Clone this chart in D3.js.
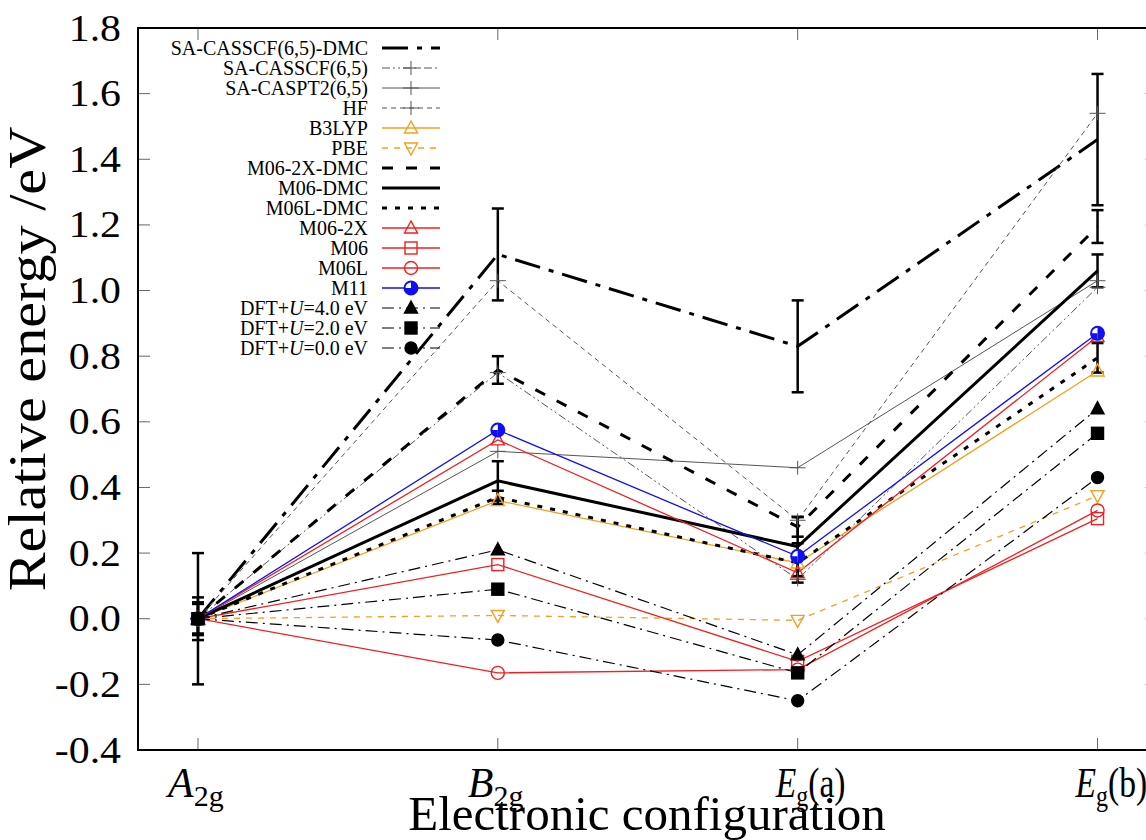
<!DOCTYPE html>
<html>
<head>
<meta charset="utf-8">
<script src="https://cdn.jsdelivr.net/npm/d3@7"></script>
<style>
  body { margin: 0; background: #fff; }
  svg { display: block; }
</style>
</head>
<body>
<div id="chartMain"></div>
<script>
// categories on the x axis
const categories = ["A2g", "B2g", "Eg(a)", "Eg(b)"];
const yTicks = [-0.4, -0.2, 0.0, 0.2, 0.4, 0.6, 0.8, 1.0, 1.2, 1.4, 1.6, 1.8];

// relative energies (eV), one value per category
const saCasscfDmc    = [0, 1.11, 0.83, 1.46];
const saCasscfDmcErr = [0.20, 0.14, 0.14, 0.20];
const saCasscf       = [0, 0.75, 0.12, 1.01];
const saCaspt2       = [0, 0.51, 0.46, 1.03];
const hf             = [0, 1.03, 0.30, 1.54];
const b3lyp          = [0, 0.36, 0.17, 0.755];
const pbe            = [0, 0.01, -0.005, 0.375];
const m062xDmc       = [0, 0.758, 0.28, 1.195];
const m062xDmcErr    = [0.05, 0.042, 0.03, 0.05];
const m06Dmc         = [0, 0.42, 0.22, 1.06];
const m06DmcErr      = [0.065, 0.06, 0.09, 0.05];
const m06lDmc        = [0, 0.37, 0.17, 0.795];
const m06lDmcErr     = [0.045, 0.02, 0.06, 0.045];
const m062x          = [0, 0.545, 0.14, 0.86];
const m06            = [0, 0.165, -0.13, 0.305];
const m06l           = [0, -0.165, -0.155, 0.33];
const m11            = [0, 0.575, 0.19, 0.87];
const dftU4          = [0, 0.21, -0.11, 0.64];
const dftU2          = [0, 0.09, -0.165, 0.565];
const dftU0          = [0, -0.065, -0.25, 0.43];

const orange = "#f5a020", red = "#f02020", blue = "#1010f0", gray = "#555";

// series in legend order
const series = [
  { name: "SA-CASSCF(6,5)-DMC", v: saCasscfDmc, err: saCasscfDmcErr, color: "#000", w: 3, dash: "26,9,5,9" },
  { name: "SA-CASSCF(6,5)", v: saCasscf, color: gray, w: 1, dash: "8,3,2,3,2,3", mk: "plus" },
  { name: "SA-CASPT2(6,5)", v: saCaspt2, color: gray, w: 1, dash: null, mk: "plus" },
  { name: "HF", v: hf, color: gray, w: 1, dash: "5,4", mk: "plus" },
  { name: "B3LYP", v: b3lyp, color: orange, w: 1.3, dash: null, mk: "tri" },
  { name: "PBE", v: pbe, color: orange, w: 1.3, dash: "6,6", mk: "itri" },
  { name: "M06-2X-DMC", v: m062xDmc, err: m062xDmcErr, color: "#000", w: 3, dash: "11,13" },
  { name: "M06-DMC", v: m06Dmc, err: m06DmcErr, color: "#000", w: 3, dash: null },
  { name: "M06L-DMC", v: m06lDmc, err: m06lDmcErr, color: "#000", w: 3, dash: "5,8" },
  { name: "M06-2X", v: m062x, color: red, w: 1.3, dash: null, mk: "tri" },
  { name: "M06", v: m06, color: red, w: 1.3, dash: null, mk: "sq" },
  { name: "M06L", v: m06l, color: red, w: 1.3, dash: null, mk: "circ" },
  { name: "M11", v: m11, color: blue, w: 1.3, dash: null, mk: "m11" },
  { name: "DFT+U=4.0 eV", v: dftU4, color: "#000", w: 1.2, dash: "12,5,2,5", mk: "ftri" },
  { name: "DFT+U=2.0 eV", v: dftU2, color: "#000", w: 1.2, dash: "12,5,2,5", mk: "fsq" },
  { name: "DFT+U=0.0 eV", v: dftU0, color: "#000", w: 1.2, dash: "12,5,2,5", mk: "fcirc" }
];

const W = 1146, H = 840;
const plot = { left: 138, right: 1157.5, top: 28, bottom: 750 };
const serif = "'Liberation Serif', 'DejaVu Serif', serif";

const svg = d3.select("#chartMain").append("svg")
  .attr("width", W).attr("height", H)
  .attr("font-family", serif)
  .style("font-family", serif);

const x = d3.scaleLinear().domain([-0.2, 3.2]).range([plot.left, plot.right]);
const y = d3.scaleLinear().domain([-0.4, 1.8]).range([plot.bottom, plot.top]);
const fmt = v => d3.format(".1f")(v).replace("\u2212", "-");

// ticks (inward, mirrored)
const ticks = svg.append("g").attr("stroke", "#666").attr("stroke-width", 1);
yTicks.forEach(t => {
  ticks.append("line").attr("x1", plot.left).attr("x2", plot.left + 12).attr("y1", y(t)).attr("y2", y(t));
  ticks.append("line").attr("x1", plot.right).attr("x2", plot.right - 12).attr("y1", y(t)).attr("y2", y(t));
});
categories.forEach((c, i) => {
  ticks.append("line").attr("x1", x(i)).attr("x2", x(i)).attr("y1", plot.bottom).attr("y2", plot.bottom - 12);
  ticks.append("line").attr("x1", x(i)).attr("x2", x(i)).attr("y1", plot.top).attr("y2", plot.top + 12);
});

// y tick labels
svg.append("g").selectAll("text").data(yTicks).join("text")
  .attr("text-anchor", "end")
  .attr("font-size", 38)
  .attr("transform", d => `translate(121,${y(d) + 12.5}) scale(1.1,1)`)
  .text(fmt);

// x tick labels with subscripts
const xl = svg.append("g").attr("font-size", 42);
categories.forEach((c, i) => {
  const isE = c.startsWith("E");
  const t = xl.append("text")
    .attr("transform", `translate(${x(i) + (isE ? -22 : -30)},797) scale(${isE ? 0.8 : 1},1)`);
  t.append("tspan").attr("font-style", "italic").text(c[0]);
  const sub = isE ? "g" : c.slice(1);
  t.append("tspan").attr("font-size", 30).attr("dy", 9).text(sub);
  if (isE) t.append("tspan").attr("dy", -9).text(c.slice(2));
});

// axis titles
svg.append("text")
  .attr("text-anchor", "middle")
  .attr("font-size", 49)
  .attr("x", 647).attr("y", 830)
  .text("Electronic configuration");
svg.append("text")
  .attr("text-anchor", "middle")
  .attr("font-size", 52)
  .attr("transform", `translate(45,359) rotate(-90) scale(1.12,1)`)
  .text("Relative energy /eV");

// lines
const line = d3.line().x((d, i) => x(i)).y(d => y(d));
const lines = svg.append("g").attr("fill", "none");
series.forEach(s => {
  lines.append("path").datum(s.v)
    .attr("d", line)
    .attr("stroke", s.color)
    .attr("stroke-width", s.w)
    .attr("stroke-dasharray", s.dash);
});

// error bars
const eb = svg.append("g").attr("stroke", "#000").attr("stroke-width", 2.5);
series.filter(s => s.err).forEach(s => {
  s.v.forEach((v, i) => {
    const e = s.err[i], cx = x(i);
    eb.append("line").attr("x1", cx).attr("x2", cx).attr("y1", y(v + e)).attr("y2", y(v - e));
    [v + e, v - e].forEach(b => eb.append("line")
      .attr("x1", cx - 6).attr("x2", cx + 6).attr("y1", y(b)).attr("y2", y(b)));
  });
});

// markers
function marker(g, type, cx, cy, color) {
  if (type === "plus") {
    g.append("path").attr("d", `M${cx - 8},${cy}H${cx + 8}M${cx},${cy - 7}V${cy + 7}`)
      .attr("stroke", color).attr("stroke-width", 1).attr("fill", "none");
  } else if (type === "tri" || type === "itri" || type === "ftri") {
    const s = type === "itri" ? -1 : 1;
    g.append("path").attr("d", `M${cx},${cy - 7 * s}L${cx - 6.5},${cy + 5 * s}L${cx + 6.5},${cy + 5 * s}Z`)
      .attr("stroke", color).attr("stroke-width", 1.4)
      .attr("fill", type === "ftri" ? color : "none");
  } else if (type === "sq" || type === "fsq") {
    g.append("rect").attr("x", cx - 6).attr("y", cy - 6).attr("width", 12).attr("height", 12)
      .attr("stroke", color).attr("stroke-width", 1.4)
      .attr("fill", type === "fsq" ? color : "none");
  } else if (type === "circ" || type === "fcirc") {
    g.append("circle").attr("cx", cx).attr("cy", cy).attr("r", type === "fcirc" ? 6 : 6.5)
      .attr("stroke", color).attr("stroke-width", 1.4)
      .attr("fill", type === "fcirc" ? color : "none");
  } else if (type === "m11") {
    g.append("circle").attr("cx", cx).attr("cy", cy).attr("r", 6.5)
      .attr("stroke", color).attr("stroke-width", 2).attr("fill", "#fff");
    g.append("path").attr("d", `M${cx},${cy - 6.5}A6.5,6.5 0 0 1 ${cx},${cy + 6.5}Z`).attr("fill", color);
    g.append("path").attr("d", `M${cx - 6.5},${cy}A6.5,6.5 0 0 0 ${cx},${cy + 6.5}V${cy}Z`).attr("fill", color);
  }
}
const marks = svg.append("g");
series.filter(s => s.mk).forEach(s => {
  s.v.forEach((v, i) => marker(marks, s.mk, x(i), y(v), s.color));
});

// frame
svg.append("rect")
  .attr("x", plot.left).attr("y", plot.top)
  .attr("width", plot.right - plot.left).attr("height", plot.bottom - plot.top)
  .attr("fill", "none").attr("stroke", "#000").attr("stroke-width", 2);

// legend
const lg = svg.append("g").attr("font-size", 20);
series.forEach((s, i) => {
  const ly = 48 + i * 20;
  const t = lg.append("text").attr("x", 368).attr("y", ly + 6.5).attr("text-anchor", "end");
  const m = s.name.match(/^(DFT\+)(U)(.*)$/);
  if (m) {
    t.append("tspan").text(m[1]);
    t.append("tspan").attr("font-style", "italic").text(m[2]);
    t.append("tspan").text(m[3]);
  } else {
    t.text(s.name);
  }
  lg.append("line").attr("x1", 382).attr("x2", 440).attr("y1", ly).attr("y2", ly)
    .attr("stroke", s.color).attr("stroke-width", s.w).attr("stroke-dasharray", s.dash);
  if (s.mk) marker(lg, s.mk, 411, ly, s.color);
});
</script>
</body>
</html>
